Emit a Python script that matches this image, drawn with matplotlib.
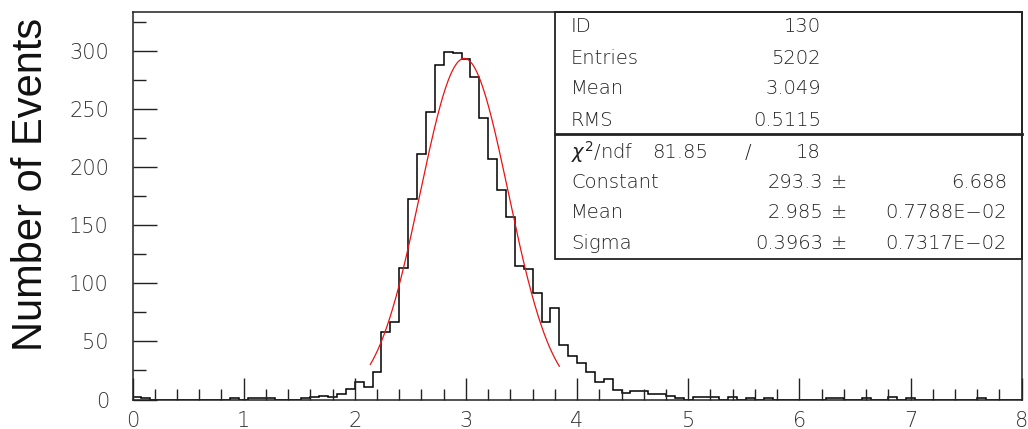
import numpy as np
import matplotlib
matplotlib.use("Agg")
import matplotlib.pyplot as plt
from matplotlib.patches import Rectangle
from matplotlib.lines import Line2D
from matplotlib.ticker import MultipleLocator

# histogram 130: 100 bins from 0 to 8
bin_lo, bin_hi, n_bins = 0.0, 8.0, 100
counts = [
    2, 1, 0, 0, 0, 0, 0, 0, 0, 0,
    0, 1, 0, 1, 1, 1, 0, 0, 0, 1,
    2, 3, 2, 5, 9, 15, 11, 24, 58, 67,
    113, 172, 211, 247, 288, 299, 298, 293, 277, 242,
    207, 180, 157, 115, 112, 92, 67, 79, 47, 37,
    31, 24, 15, 18, 8, 6, 7, 7, 5, 5,
    3, 1, 0, 2, 2, 2, 0, 2, 0, 1,
    0, 1, 0, 0, 0, 0, 0, 0, 1, 1,
    0, 0, 1, 0, 0, 2, 0, 1, 0, 0,
    0, 0, 0, 0, 0, 1, 0, 0, 0, 0,
]

# gaussian fit result
fit_const, fit_mean, fit_sigma = 293.3, 2.985, 0.3963
fit_range = (2.14, 3.84)

stats_rows = [("ID", "130"), ("Entries", "5202"), ("Mean", "3.049"), ("RMS", "0.5115")]
fit_rows = [("Constant", "293.3", "6.688"),
            ("Mean", "2.985", "0.7788E\u221202"),
            ("Sigma", "0.3963", "0.7317E\u221202")]
chi2_val, ndf_val = "81.85", "18"

W, H = 1028, 429
TXT = dict(family=["DejaVu Sans"], fontweight=200, color="#222222")


def px(x, y):
    """pixel position (origin top-left) -> figure fraction"""
    return x / W, 1 - y / H


fig = plt.figure(figsize=(W / 100, H / 100), dpi=100)
l, t = px(132.5, 11.7)
r, b = px(1021.7, 399.5)
ax = fig.add_axes([l, b, r - l, t - b])

edges = np.linspace(bin_lo, bin_hi, n_bins + 1)
ax.stairs(counts, edges, color="black", lw=1.1)

xf = np.linspace(fit_range[0], fit_range[1], 300)
yf = fit_const * np.exp(-0.5 * ((xf - fit_mean) / fit_sigma) ** 2)
ax.plot(xf, yf, color="#ee1111", lw=0.9)

ax.set_xlim(bin_lo, bin_hi)
ax.set_ylim(0, 333.5)
ax.xaxis.set_major_locator(MultipleLocator(1))
ax.xaxis.set_minor_locator(MultipleLocator(0.2))
ax.yaxis.set_major_locator(MultipleLocator(50))
ax.yaxis.set_minor_locator(MultipleLocator(25))
ax.tick_params(which="both", direction="in", top=False, right=False,
               color="#222222", width=1.0)
ax.tick_params(axis="x", which="major", length=16, pad=8, labelsize=15)
ax.tick_params(axis="x", which="minor", length=8)
ax.tick_params(axis="y", which="major", length=17, pad=17, labelsize=15)
ax.tick_params(axis="y", which="minor", length=9)
for lab in ax.get_xticklabels() + ax.get_yticklabels():
    lab.set_fontfamily(TXT["family"])
    lab.set_fontweight(TXT["fontweight"])
    lab.set_color("#333333")
for sp in ax.spines.values():
    sp.set_linewidth(1.1)
    sp.set_color("#222222")

# y title
fig.text(*px(31, 184), "Number of Events", rotation=90, ha="center", va="center",
         fontsize=30, family=["Liberation Sans", "DejaVu Sans"], color="#111111")

# statistics box
x0, _ = px(555, 0)
_, ytop = px(0, 11.7)
_, ymid = px(0, 134)
_, ybot = px(0, 259)
fig.patches.append(Rectangle((x0, ybot), r - x0, ytop - ybot, transform=fig.transFigure,
                             fill=False, ec="#222222", lw=1.3))
fig.lines.append(Line2D([x0, r], [ymid, ymid], transform=fig.transFigure,
                        color="#222222", lw=2.0))

row_y = [27, 58, 89, 120]
for (name, val), yy in zip(stats_rows, row_y):
    fig.text(*px(571, yy), name, ha="left", va="center", fontsize=14, **TXT)
    fig.text(*px(821, yy), val, ha="right", va="center", fontsize=14, **TXT)

fig.text(*px(571, 152), r"$\chi^2$/ndf", ha="left", va="center", fontsize=14, **TXT)
fig.text(*px(708, 152), chi2_val, ha="right", va="center", fontsize=14, **TXT)
fig.text(*px(748, 152), "/", ha="center", va="center", fontsize=14, **TXT)
fig.text(*px(821, 152), ndf_val, ha="right", va="center", fontsize=14, **TXT)

for (name, val, err), yy in zip(fit_rows, [183, 213, 244]):
    fig.text(*px(571, yy), name, ha="left", va="center", fontsize=14, **TXT)
    fig.text(*px(823, yy), val, ha="right", va="center", fontsize=14, **TXT)
    fig.text(*px(846, yy), "\u00b1", ha="right", va="center", fontsize=14, **TXT)
    fig.text(*px(1007, yy), err, ha="right", va="center", fontsize=14, **TXT)

fig.savefig("out.png", dpi=100)
